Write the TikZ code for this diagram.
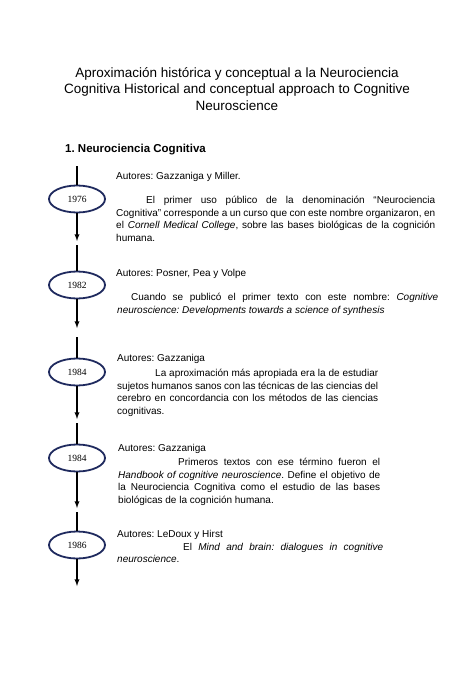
\documentclass[tikz,border=0pt]{standalone}
\usepackage{fontspec}
\setmainfont{Liberation Sans}
\newfontfamily\yearfont{Liberation Serif}
\usetikzlibrary{arrows,shapes.geometric}
\frenchspacing
\definecolor{tl_navy}{RGB}{31, 42, 94}
\tikzstyle{yr}=[ellipse,draw=tl_navy,line width=1.8pt,fill=white,
  minimum width=56pt,minimum height=27pt,inner sep=0pt,
  font=\yearfont\fontsize{9.5}{11}\selectfont]
\tikzstyle{txt}=[anchor=north west,inner sep=0pt,align=justify,
  font=\fontsize{10}{12.7}\selectfont]
\tikzstyle{aut}=[anchor=base west,inner sep=0pt,font=\fontsize{10}{12.7}\selectfont]
\tikzstyle{flow}=[line width=1.3pt,-latex]
\tikzstyle{none}=[]

\begin{document}
\begin{tikzpicture}[x=1pt,y=-1pt]
            \useasboundingbox (0,0) rectangle (474,690);
            \node [align=center,font=\fontsize{13.5}{16.6}\selectfont] (t) at (237, 89)
              {Aproximación histórica y conceptual a la Neurociencia\\
               Cognitiva Historical and conceptual approach to Cognitive\\
               Neuroscience};
            \node [anchor=base west,inner sep=0pt,font=\fontsize{11.5}{14}\selectfont\bfseries] (h) at (65, 152) {1. Neurociencia Cognitiva};
            % years
            \node [style=yr] (0) at (77, 199) {1976};
            \node [style=yr] (1) at (77, 285) {1982};
            \node [style=yr] (2) at (77, 372) {1984};
            \node [style=yr] (3) at (77, 458) {1984};
            \node [style=yr] (4) at (77, 545) {1986};
            \node [style=none] (5) at (77, 166) {};
            \node [style=none] (6) at (77, 245) {};
            \node [style=none] (7) at (77, 337) {};
            \node [style=none] (8) at (77, 423) {};
            \node [style=none] (9) at (77, 512) {};
            \node [style=none] (10) at (77, 241) {};
            \node [style=none] (11) at (77, 328) {};
            \node [style=none] (12) at (77, 419) {};
            \node [style=none] (13) at (77, 508) {};
            \node [style=none] (14) at (77, 586) {};
            \draw [line width=1.3pt] (5.center) to (0);
            \draw [line width=1.3pt] (6.center) to (1);
            \draw [line width=1.3pt] (7.center) to (2);
            \draw [line width=1.3pt] (8.center) to (3);
            \draw [line width=1.3pt] (9.center) to (4);
            \draw [style=flow] (0) to (10.center);
            \draw [style=flow] (1) to (11.center);
            \draw [style=flow] (2) to (12.center);
            \draw [style=flow] (3) to (13.center);
            \draw [style=flow] (4) to (14.center);
            % texts
            \node [style=aut] (a0) at (116, 179) {Autores: Gazzaniga y Miller.};
            \node [style=txt,text width=319pt] (p0) at (116, 195.8)
              {\hspace*{30pt}El primer uso público de la denominación “Neurociencia\linebreak
               Cognitiva” corresponde a un curso que con este nombre organizaron, en\linebreak
               el \textit{Cornell Medical College}, sobre las bases biológicas de la cognición\linebreak
               humana.};
            \node [style=aut] (a1) at (116, 276) {Autores: Posner, Pea y Volpe};
            \node [style=txt,text width=321pt] (p1) at (117, 292.8)
              {\hspace*{14pt}Cuando se publicó el primer texto con este nombre: \textit{Cognitive}\linebreak
               \textit{neuroscience: Developments towards a science of synthesis}};
            \node [style=aut] (a2) at (117, 361) {Autores: Gazzaniga};
            \node [style=txt,text width=261pt] (p2) at (117, 368.8)
              {\hspace*{38pt}La aproximación más apropiada era la de estudiar\linebreak
               sujetos humanos sanos con las técnicas de las ciencias del\linebreak
               cerebro en concordancia con los métodos de las ciencias\linebreak
               cognitivas.};
            \node [style=aut] (a3) at (118, 451) {Autores: Gazzaniga};
            \node [style=txt,text width=262pt] (p3) at (118, 457.8)
              {\hspace*{60pt}Primeros textos con ese término fueron el\linebreak
               \textit{Handbook of cognitive neuroscience}. Define el objetivo de\linebreak
               la Neurociencia Cognitiva como el estudio de las bases\linebreak
               biológicas de la cognición humana.};
            \node [style=aut] (a4) at (117, 537) {Autores: LeDoux y Hirst};
            \node [style=txt,text width=266pt] (p4) at (117, 542.8)
              {\hspace*{66pt}El \textit{Mind and brain: dialogues in cognitive}\linebreak
               \textit{neuroscience}.};
    \end{tikzpicture}
\end{document}
